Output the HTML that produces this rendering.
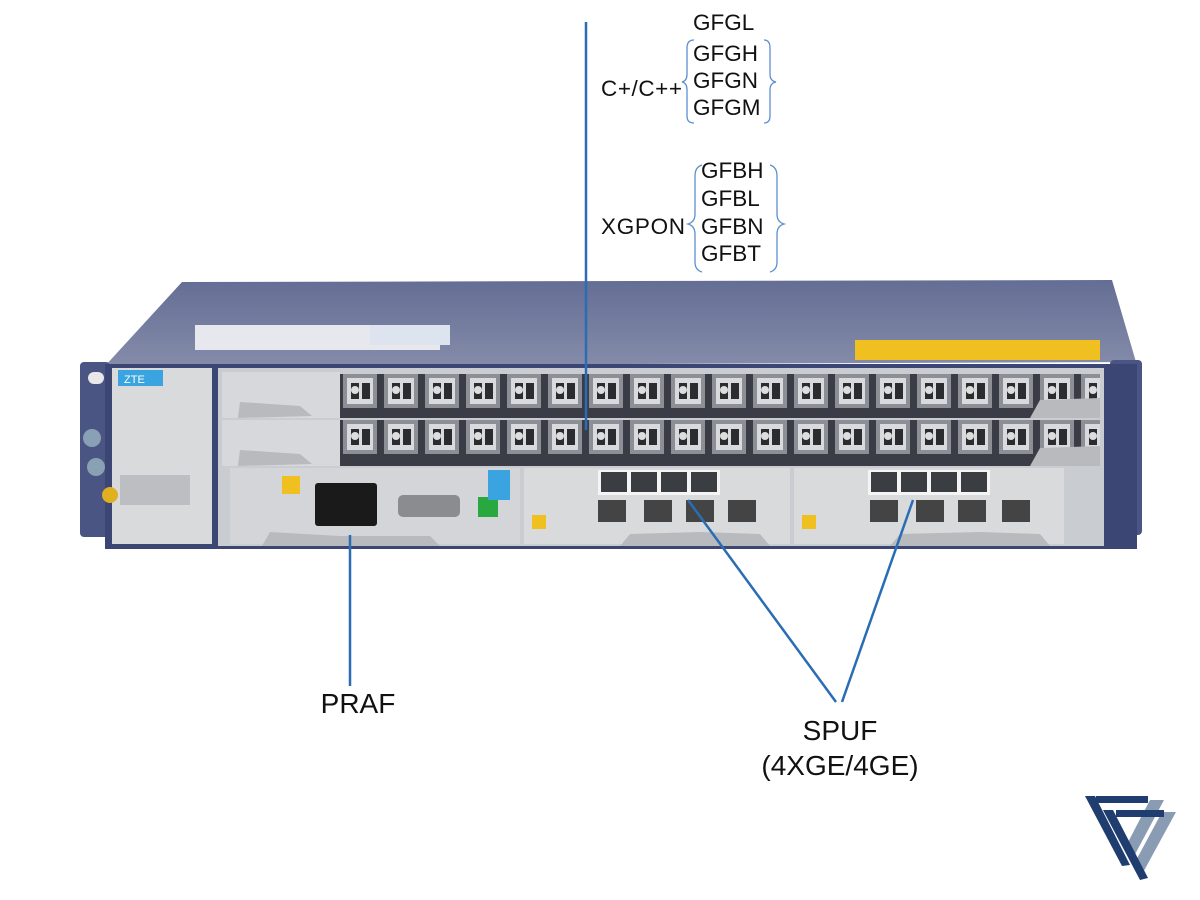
<!DOCTYPE html>
<html><head><meta charset="utf-8"><style>
html,body{margin:0;padding:0;background:#fff;}
svg{display:block;}
text{font-family:"Liberation Sans",Arial,sans-serif;fill:#111;}
</style></head><body>
<svg width="1200" height="900" viewBox="0 0 1200 900" xmlns="http://www.w3.org/2000/svg">
<defs>
<linearGradient id="lid" x1="0" y1="0" x2="0" y2="1">
<stop offset="0" stop-color="#646d94"/><stop offset="1" stop-color="#858caa"/></linearGradient>
<pattern id="sfp" x="340" y="0" width="41" height="46" patternUnits="userSpaceOnUse">
<rect x="0" y="0" width="41" height="46" fill="#3a3d45"/>
<rect x="3" y="6" width="34" height="34" fill="#8c9096"/>
<rect x="7" y="10" width="26" height="26" fill="#d8dadd"/>
<rect x="11" y="15" width="8" height="16" fill="#2a2c30"/>
<rect x="22" y="15" width="8" height="16" fill="#2a2c30"/>
<circle cx="15" cy="22" r="4" fill="#ddd"/>
</pattern>
</defs>
<polygon points="182,282 1112,280 1136,362 105,366" fill="url(#lid)"/>
<rect x="195" y="325" width="245" height="25" fill="#e6e8ee"/>
<rect x="370" y="325" width="80" height="20" fill="#dde3ef"/>
<rect x="855" y="340" width="245" height="20" fill="#f0c020"/>
<rect x="80" y="362" width="30" height="175" rx="4" fill="#4a5584"/>
<rect x="1110" y="360" width="32" height="175" rx="4" fill="#4a5584"/>
<rect x="88" y="372" width="16" height="12" rx="6" fill="#e8e8e8"/>
<rect x="1118" y="370" width="16" height="12" rx="6" fill="#e8e8e8"/>
<rect x="1118" y="516" width="16" height="12" rx="6" fill="#e8e8e8"/>
<rect x="105" y="364" width="1032" height="185" fill="#3c4674"/>
<rect x="112" y="368" width="100" height="176" fill="#d8dadc"/>
<rect x="118" y="370" width="45" height="16" fill="#3aa4e0"/>
<text x="124" y="383" font-size="11" style="fill:#fff">ZTE</text>
<rect x="120" y="475" width="70" height="30" fill="#bcbec2"/>
<circle cx="92" cy="438" r="9" fill="#8aa0b4"/>
<circle cx="96" cy="467" r="9" fill="#8aa0b4"/>
<circle cx="110" cy="495" r="8" fill="#e0b020"/>
<rect x="218" y="368" width="886" height="178" fill="#c9ccd0"/>
<rect x="222" y="372" width="118" height="46" fill="#d6d8db"/>
<rect x="222" y="420" width="118" height="46" fill="#d6d8db"/>
<rect x="340" y="374" width="760" height="44" fill="url(#sfp)"/>
<rect x="340" y="420" width="760" height="46" fill="url(#sfp)"/>
<polygon points="240,402 300,406 312,416 238,418" fill="#b8babd"/>
<polygon points="240,450 300,454 312,464 238,466" fill="#b8babd"/>
<polygon points="1040,400 1100,398 1100,418 1030,418" fill="#b8babd"/>
<polygon points="1040,448 1100,446 1100,466 1030,466" fill="#b8babd"/>
<rect x="230" y="468" width="290" height="76" fill="#d3d5d8"/>
<rect x="315" y="483" width="62" height="43" rx="3" fill="#1a1a1a"/>
<rect x="398" y="495" width="62" height="22" rx="5" fill="#8a8c90"/>
<rect x="478" y="497" width="20" height="20" fill="#2aa840"/>
<rect x="488" y="470" width="22" height="30" fill="#3aa4e0"/>
<rect x="282" y="476" width="18" height="18" fill="#f0c020"/>
<polygon points="270,532 340,536 430,536 440,546 262,546" fill="#b8babd"/>
<rect x="524" y="468" width="266" height="76" fill="#d8dadc"/>
<rect x="598" y="470" width="122" height="25" fill="#f4f4f4"/>
<rect x="601" y="472" width="26" height="20" fill="#3a3d42"/>
<rect x="631" y="472" width="26" height="20" fill="#3a3d42"/>
<rect x="661" y="472" width="26" height="20" fill="#3a3d42"/>
<rect x="691" y="472" width="26" height="20" fill="#3a3d42"/>
<rect x="598" y="500" width="28" height="22" fill="#444"/>
<rect x="644" y="500" width="28" height="22" fill="#444"/>
<rect x="686" y="500" width="28" height="22" fill="#444"/>
<rect x="728" y="500" width="28" height="22" fill="#444"/>
<rect x="532" y="515" width="14" height="14" fill="#f0c020"/>
<polygon points="630,534 700,532 760,534 770,546 620,546" fill="#b8babd"/>
<rect x="794" y="468" width="270" height="76" fill="#d8dadc"/>
<rect x="868" y="470" width="122" height="25" fill="#f4f4f4"/>
<rect x="871" y="472" width="26" height="20" fill="#3a3d42"/>
<rect x="901" y="472" width="26" height="20" fill="#3a3d42"/>
<rect x="931" y="472" width="26" height="20" fill="#3a3d42"/>
<rect x="961" y="472" width="26" height="20" fill="#3a3d42"/>
<rect x="870" y="500" width="28" height="22" fill="#444"/>
<rect x="916" y="500" width="28" height="22" fill="#444"/>
<rect x="958" y="500" width="28" height="22" fill="#444"/>
<rect x="1002" y="500" width="28" height="22" fill="#444"/>
<rect x="802" y="515" width="14" height="14" fill="#f0c020"/>
<polygon points="900,534 980,532 1040,534 1050,546 890,546" fill="#b8babd"/>
<g stroke="#2a6db5" stroke-width="2.5" fill="none">
<line x1="586" y1="22" x2="586" y2="430"/>
<line x1="350" y1="535" x2="350" y2="686"/>
<line x1="688" y1="500" x2="836" y2="702"/>
<line x1="913" y1="500" x2="842" y2="702"/>
</g>
<g stroke="#5b8fcf" stroke-width="1.3" fill="none">
<path d="M694,40 Q687,40 687,48 L687,74 Q687,81 682,82 Q687,83 687,90 L687,116 Q687,123 694,123"/>
<path d="M764,40 Q770,40 770,48 L770,74 Q770,81 776,82 Q770,83 770,90 L770,116 Q770,123 764,123"/>
<path d="M702,165 Q695,167 695,176 L695,214 Q695,222 688,224 Q695,226 695,234 L695,262 Q695,270 702,272"/>
<path d="M770,165 Q777,167 777,176 L777,214 Q777,222 784,224 Q777,226 777,234 L777,262 Q777,270 770,272"/>
</g>
<g font-size="22.5">
<text x="693" y="30">GFGL</text>
<text x="693" y="61">GFGH</text>
<text x="693" y="88">GFGN</text>
<text x="693" y="115">GFGM</text>
<text x="601" y="96" textLength="81">C+/C++</text>
<text x="701" y="178">GFBH</text>
<text x="701" y="206">GFBL</text>
<text x="701" y="234">GFBN</text>
<text x="701" y="261">GFBT</text>
<text x="601" y="234" textLength="84">XGPON</text>
</g>
<g font-size="28" text-anchor="middle">
<text x="358" y="713">PRAF</text>
<text x="840" y="740">SPUF</text>
<text x="840" y="775">(4XGE/4GE)</text>
</g>
<g>
<polygon points="1150,800 1164,800 1132,860 1125,848" fill="#8a9bb4"/>
<polygon points="1162,812 1176,812 1140,878 1133,866" fill="#8a9bb4"/>
<rect x="1096" y="796" width="52" height="7" fill="#1f3d6e"/>
<rect x="1116" y="810" width="48" height="7" fill="#1f3d6e"/>
<polygon points="1085,796 1095,796 1130,865 1122,866" fill="#1f3d6e"/>
<polygon points="1103,810 1113,810 1148,878 1140,880" fill="#1f3d6e"/>
</g>
</svg>
</body></html>
